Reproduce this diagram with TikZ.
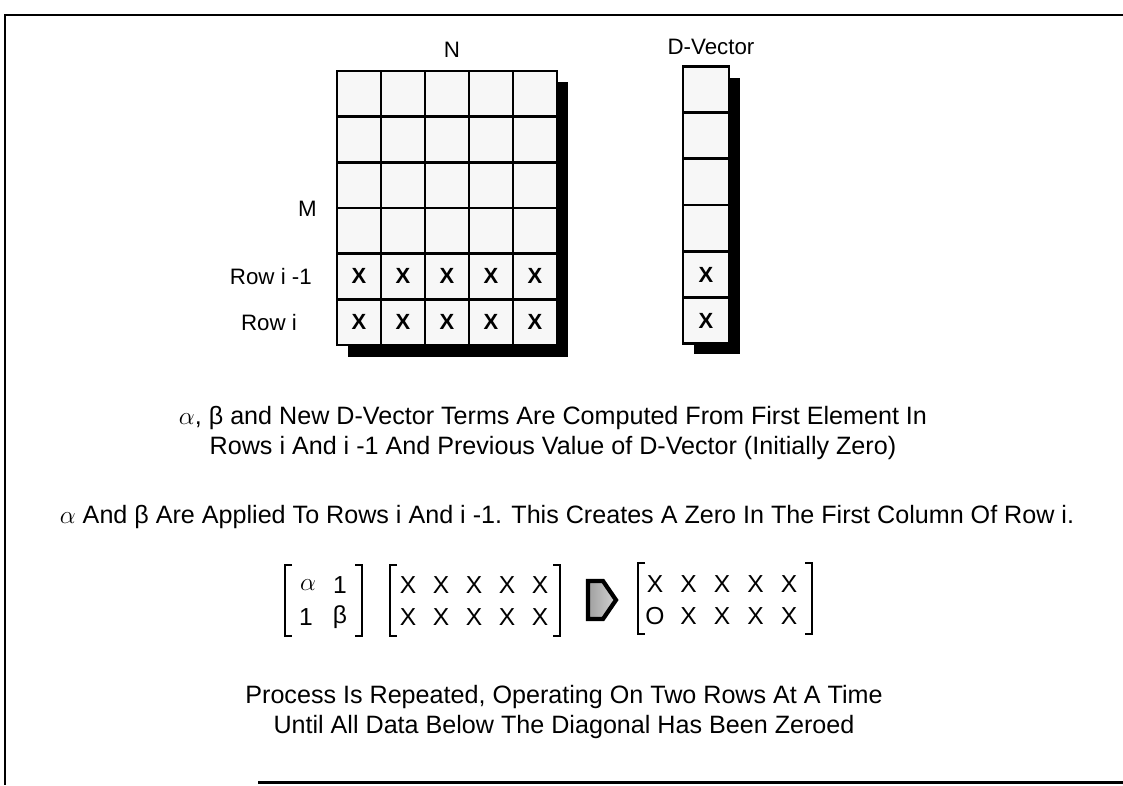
\documentclass[tikz,border=0pt]{standalone}
\usepackage{fontspec}
\setmainfont{Liberation Sans}
\usetikzlibrary{calc, positioning}

\begin{document}
\begin{tikzpicture}[x=0.02cm, y=-0.02cm,
    txt/.style={font=\fontsize{14.3pt}{17pt}\selectfont, align=center},
    lbl/.style={font=\fontsize{12.7pt}{15pt}\selectfont},
    cell/.style={draw, line width=1.6pt, fill=gray!6},
    bigx/.style={font=\fontsize{12.5pt}{14pt}\selectfont\bfseries},
    ent/.style={font=\fontsize{14pt}{16pt}\selectfont},
    brk/.style={line width=1pt}]
  \useasboundingbox (0,0) rectangle (1123,785);
  % frame
  \draw[line width=1.7pt] (1123,15) -- (5,15) -- (5,785);
  \draw[line width=1.7pt] (258,782) -- (1123,782);

  % M x N data matrix
  \fill (348,82) rectangle (568,357);
  \foreach \c in {0,...,4}
    \foreach \r in {0,...,5}
      \draw[cell] ({337+44*\c},{71+45.67*\r}) rectangle +(44,45.67);
  \foreach \c in {0,...,4} {
    \node[bigx] (xa\c) at ({359+44*\c},276.2) {X};
    \node[bigx] (xb\c) at ({359+44*\c},321.8) {X};
  }
  \node[lbl] (colN) at (452,50) {N};
  \node[lbl, anchor=east] (rowM) at (323,209) {M};
  \node[lbl, anchor=east] (rowA) at (318,277) {Row i -1};
  \node[lbl, anchor=east] (rowB) at (303,323) {Row i};

  % D-vector
  \fill (694,78) rectangle (740,354);
  \foreach \r in {0,...,5}
    \draw[cell] (683,{66.7+46.1*\r}) rectangle +(46,46.1);
  \node[bigx] (dva) at (706,275.1) {X};
  \node[bigx] (dvb) at (706,321.2) {X};
  \node[lbl] (dvec) at (711,47) {D-Vector};

  % explanation
  \node[txt] (step1) at (553,433) {$\alpha$, β and New D-Vector Terms Are Computed From First Element In\\
    Rows i And i -1 And Previous Value of D-Vector (Initially Zero)};
  \node[txt] (step2) at (567,517) {$\alpha$ And β Are Applied To Rows i And i -1. This Creates A Zero In The First Column Of Row i.};

  % rotation applied to the two rows
  \draw[brk] (292,565) -- (285,565) -- (285,636) -- (292,636);
  \draw[brk] (355,565) -- (362,565) -- (362,636) -- (355,636);
  \node[ent] (ra) at (308,585) {$\alpha$};
  \node[ent] (rb) at (340,585) {1};
  \node[ent] (rc) at (306,617) {1};
  \node[ent] (rd) at (340,617) {β};

  \draw[brk] (397,565) -- (390,565) -- (390,636) -- (397,636);
  \draw[brk] (553,565) -- (560,565) -- (560,636) -- (553,636);
  \foreach \k in {0,...,4} {
    \node[ent] (ua\k) at ({408+33*\k},585) {X};
    \node[ent] (ub\k) at ({408+33*\k},617) {X};
  }

  \draw[line width=2.4pt, left color=gray!75, right color=gray!35, line join=miter]
    (588,581) -- (603,581) -- (616,600) -- (603,619) -- (588,619) -- cycle;

  \draw[brk] (645,563) -- (638,563) -- (638,634) -- (645,634);
  \draw[brk] (805,563) -- (812,563) -- (812,634) -- (805,634);
  \foreach \k in {0,...,4}
    \node[ent] (va\k) at ({655+33.5*\k},584) {X};
  \node[ent] (vb0) at (655,616) {O};
  \foreach \k in {1,...,4}
    \node[ent] (vb\k) at ({655+33.5*\k},616) {X};

  \node[txt] (step3) at (564,712) {Process Is Repeated, Operating On Two Rows At A Time\\
    Until All Data Below The Diagonal Has Been Zeroed};
\end{tikzpicture}
\end{document}
